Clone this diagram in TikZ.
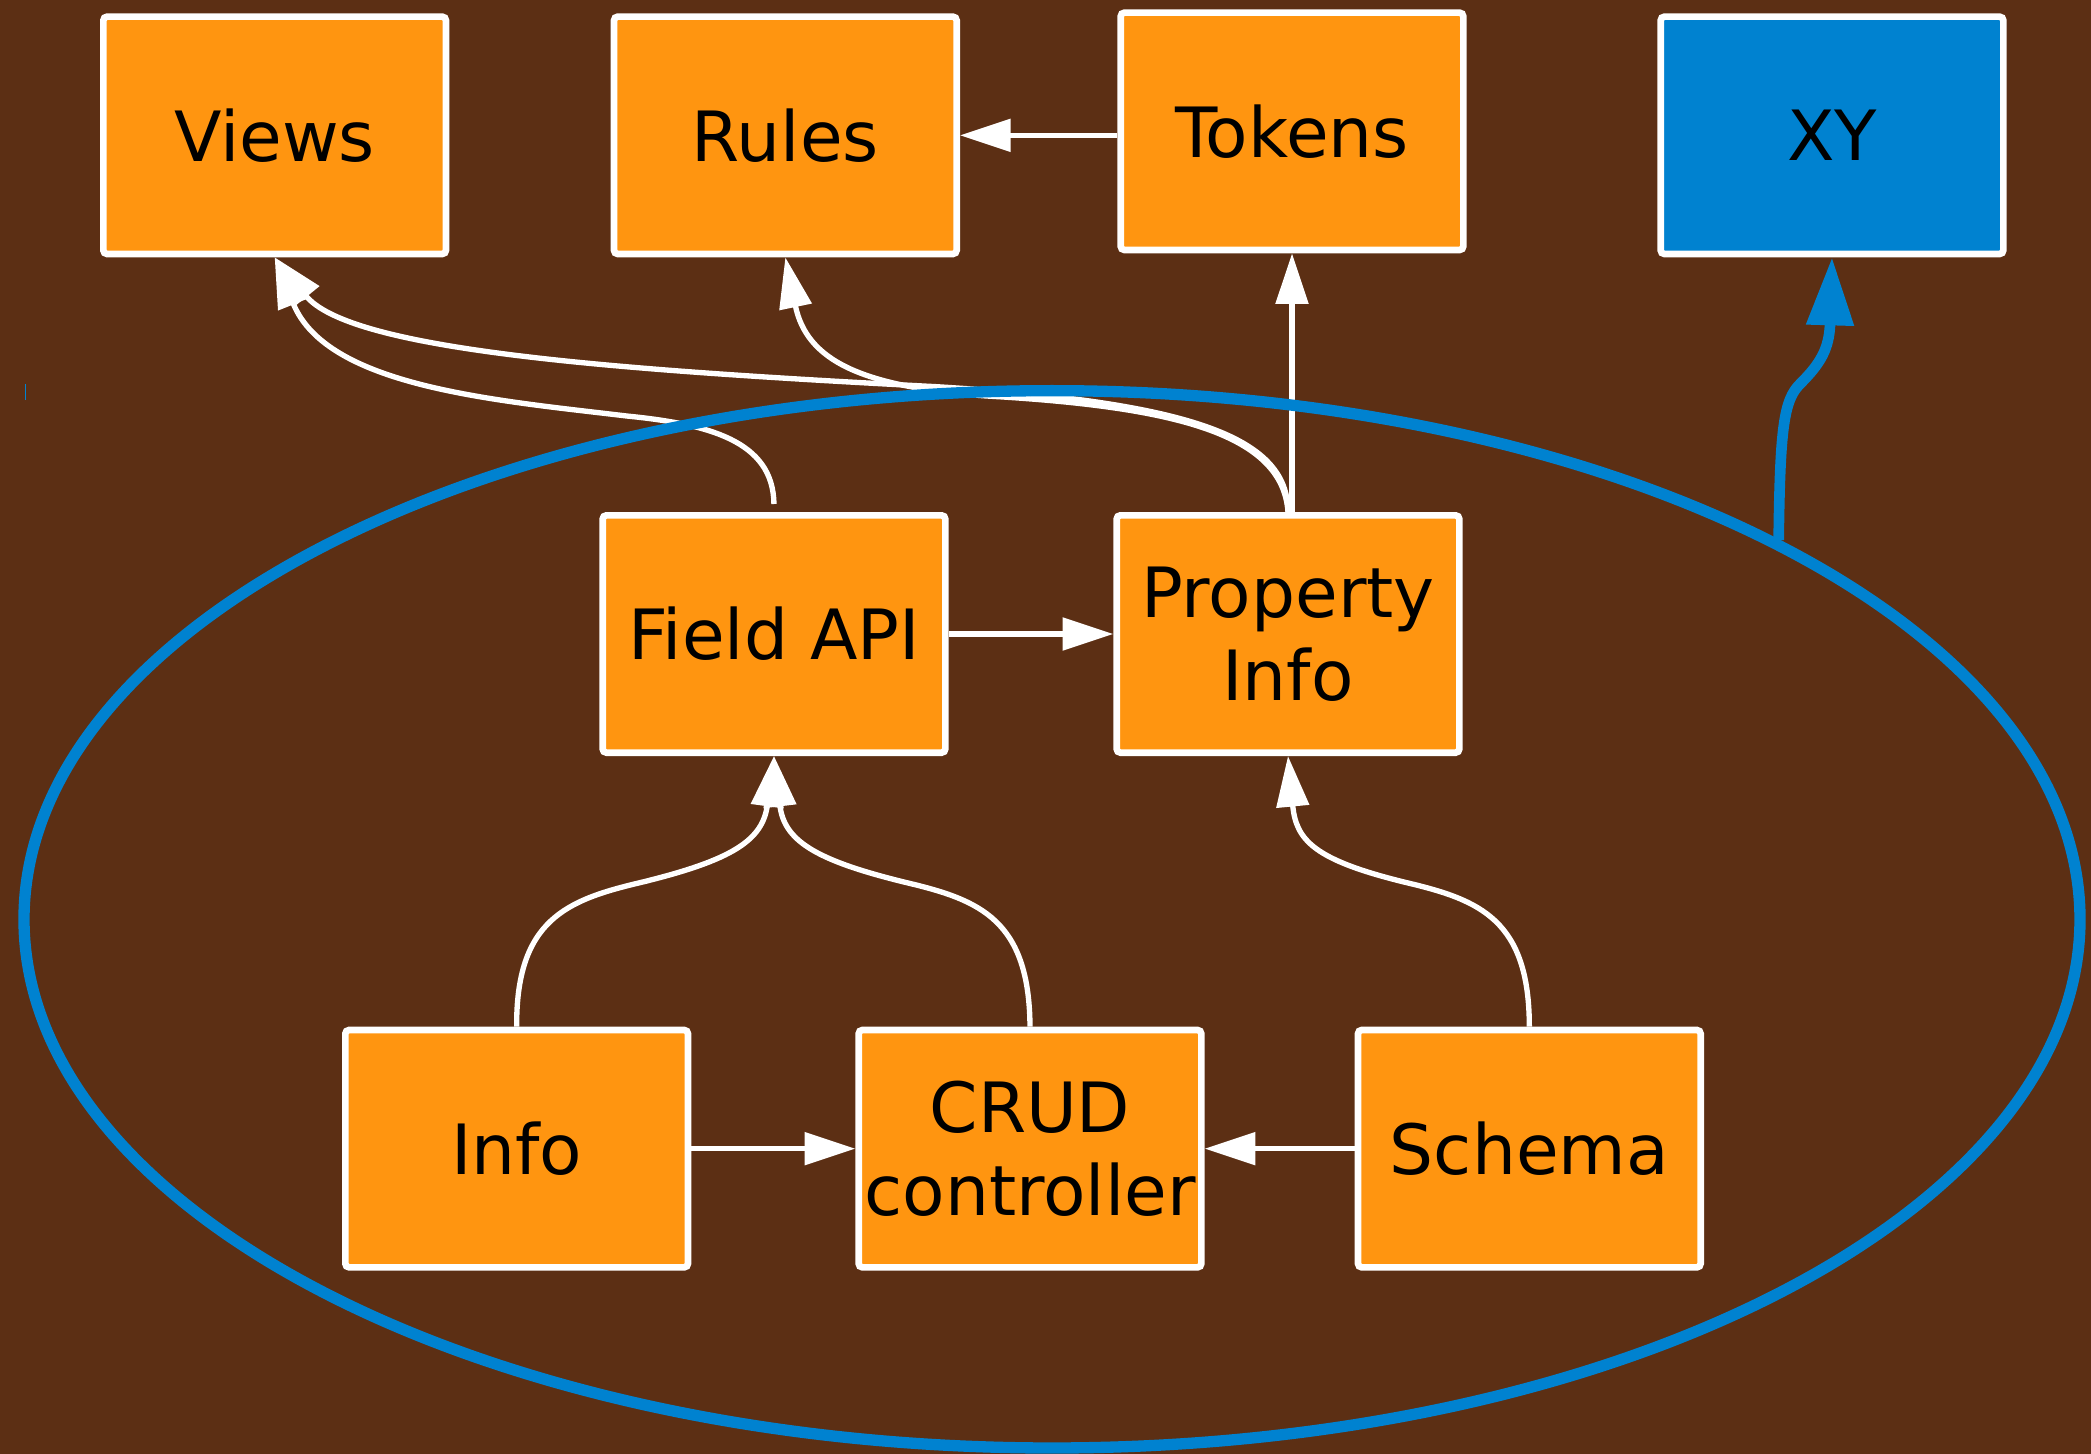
\documentclass[tikz,border=0pt]{standalone}
\usepackage{fontspec}
\setmainfont{DejaVu Sans}
\usetikzlibrary{arrows.meta}
\definecolor{bg}{RGB}{92,47,20}
\definecolor{boxorange}{RGB}{255,149,16}
\definecolor{clblue}{RGB}{0,130,208}
\begin{document}
\begin{tikzpicture}[x=0.1mm,y=-0.1mm,
  box/.style={draw=white, line width=0.5mm, fill=boxorange, rounded corners=0.8pt,
    minimum width=25.7mm, minimum height=17.8mm, align=center, inner sep=0pt,
    font=\fontsize{14.8}{17.8}\selectfont},
  edge/.style={draw=white, line width=0.4mm, -{Triangle[length=3.8mm,width=2.4mm]}},
  xyedge/.style={draw=clblue, line width=0.8mm, -{Triangle[length=5.1mm,width=3.4mm]}},
  cluster/.style={draw=clblue, line width=0.85mm}]
\fill[bg] (0,0) rectangle (1568.25,1090.5);
\useasboundingbox (0,0) rectangle (1568.25,1090.5);

\node[box] (views) at (206,101.5) {Views};
\node[box] (rules) at (589,101.5) {Rules};
\node[box] (tokens) at (969,98.5) {Tokens};
\node[box, fill=clblue] (xy) at (1374,101.5) {XY};
\node[box] (fieldapi) at (580.5,475.5) {Field API};
\node[box] (property) at (966,475.5) {Property\\Info};
\node[box] (info) at (387.5,861.5) {Info};
\node[box] (crud) at (772.5,861.5) {CRUD\\controller};
\node[box] (schema) at (1147,861.5) {Schema};
\coordinate (xyfrom) at (1334,405);

\draw[edge] (tokens.west |- rules.east) -- (rules.east);
\draw[edge] (tokens.south |- property.north) -- (tokens.south);
\draw[edge] (fieldapi.east) -- (property.west);
\draw[edge] (info.east) -- (crud.west);
\draw[edge] (schema.west) -- (crud.east);
\draw[edge] (info.north) .. controls (387,690) and (425,675) .. (480,662) .. controls (550,645) and (572,630) .. (fieldapi.south);
\draw[edge] (crud.north) .. controls (772,690) and (735,675) .. (680,662) .. controls (610,645) and (588,630) .. (fieldapi.south);
\draw[edge] (schema.north) .. controls (1147,690) and (1110,675) .. (1055,662) .. controls (985,645) and (972,630) .. (property.south);
\draw[edge, shorten <=0.6mm] (fieldapi.north) .. controls (580,330) and (530,318) .. (470,312) .. controls (370,300) and (245,290) .. (views.south);
\draw[edge] (property.north) .. controls (966,330) and (900,302) .. (702,290) .. controls (450,277) and (262,262) .. (views.south);
\draw[edge] (property.north) .. controls (962,325) and (880,305) .. (740,297) .. controls (645,290) and (605,270) .. (rules.south);

\draw[cluster] (789,689.5) ellipse [x radius=771, y radius=396.5];
\draw[xyedge] (xyfrom) .. controls (1335,320) and (1338,300) .. (1350,288) .. controls (1365,273) and (1372,262) .. (xy.south);
\draw[clblue, line width=0.12mm] (19,288) -- (19,300);
\end{tikzpicture}
\end{document}
